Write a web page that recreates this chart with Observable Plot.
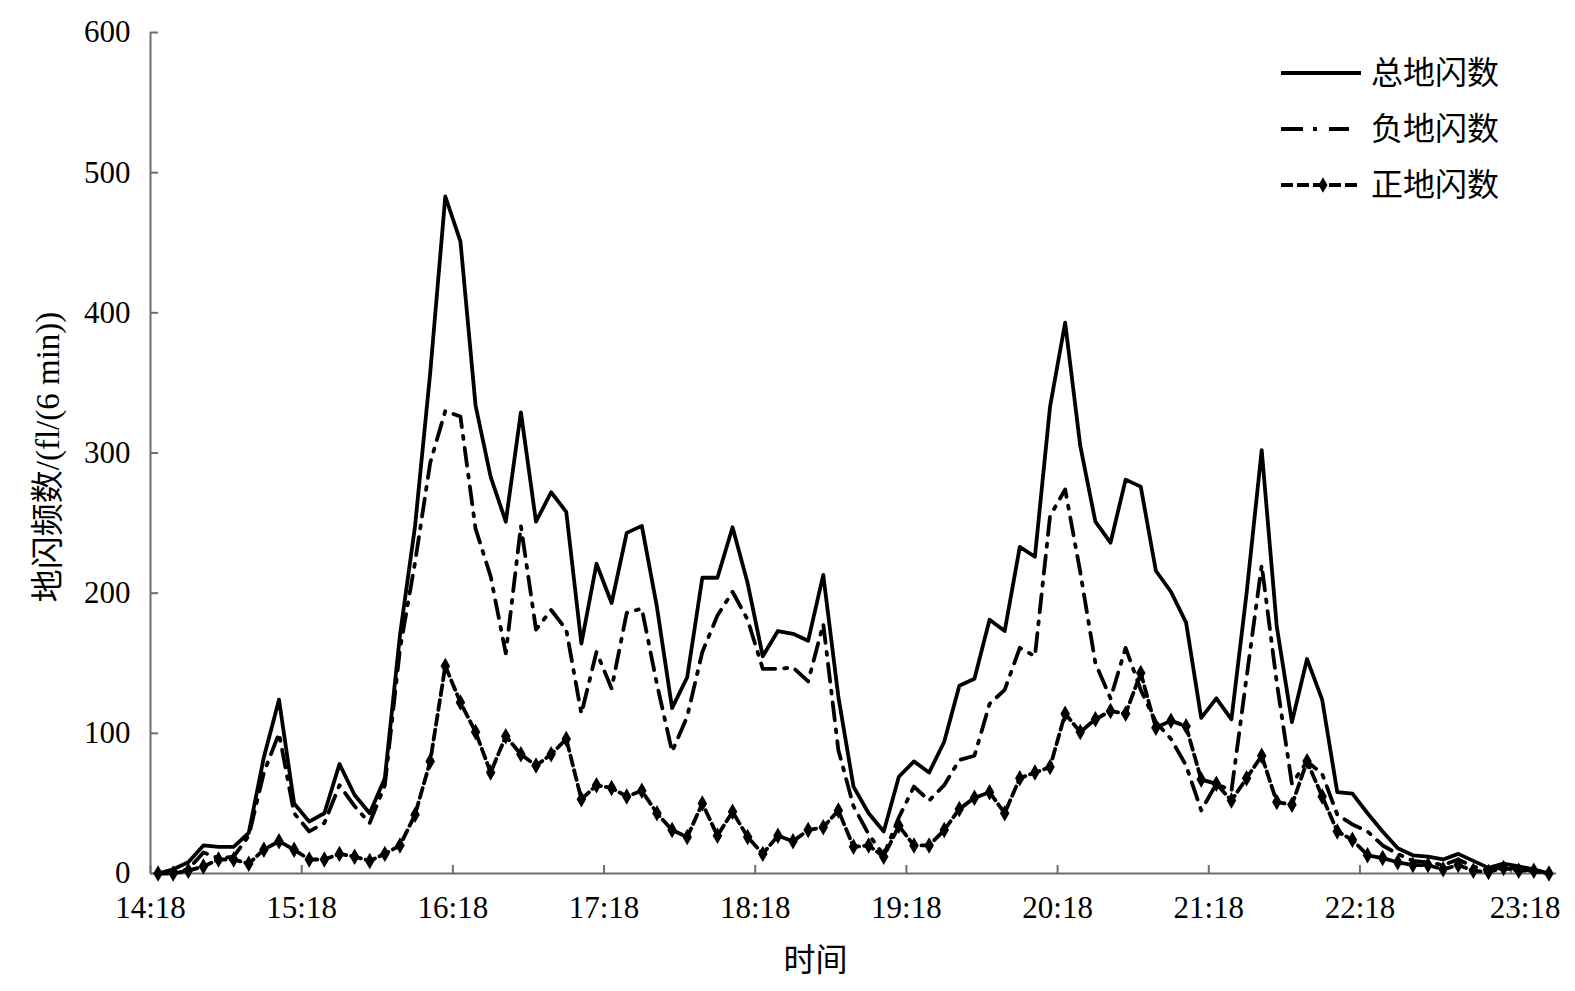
<!DOCTYPE html>
<html>
<head>
<meta charset="utf-8">
<script src="https://cdn.jsdelivr.net/npm/d3@7"></script>
<script src="https://cdn.jsdelivr.net/npm/@observablehq/plot@0.6"></script>
<style>
  body { margin: 0; background: #fff; }
  #wrap { position: relative; width: 1575px; height: 991px; overflow: hidden; }
  #legend { position: absolute; left: 0; top: 0; pointer-events: none; }
</style>
</head>
<body>
<div id="wrap"></div>
<script>
// ---- data (6-min counts, 14:18 onward) ----
const hourLabels = ["14:18","15:18","16:18","17:18","18:18","19:18","20:18","21:18","22:18","23:18"];
const yTicks = [0, 100, 200, 300, 400, 500, 600];
const seriesNames = ["总地闪数", "负地闪数", "正地闪数"];

const total = [0,3,8,20,19,19,29,83,124,50,37,43,78,56,43,68,170,248,357,483,
  451,334,283,251,329,251,272,258,164,221,193,243,248,190,118,140,211,211,247,207,
  155,173,171,166,213,126,62,43,30,69,80,72,94,134,139,181,173,233,226,333,
  393,305,251,236,281,276,216,201,179,111,125,110,200,302,176,108,153,124,58,57,
  43,30,18,13,12,10,14,9,4,7,5,3,0];

const negative = [0,1,3,15,11,12,27,72,100,43,30,36,63,48,36,63,160,222,293,330,
  326,246,212,157,248,174,188,174,114,158,132,186,189,135,87,112,158,184,201,181,
  146,146,147,137,178,88,48,28,13,40,62,52,63,81,84,121,131,161,155,255,
  274,215,150,125,161,131,108,96,77,45,64,59,140,220,136,64,80,71,42,35,
  30,20,14,9,8,6,10,5,2,5,3,2,0];

const positive = [0,0,2,5,10,10,7,17,23,17,10,10,14,12,9,14,20,42,80,148,
  122,101,72,98,85,77,85,96,53,63,61,55,59,43,31,26,50,27,44,26,
  14,27,23,31,33,45,19,20,12,34,20,20,31,46,54,58,43,68,72,76,
  114,101,110,116,114,143,104,109,105,67,64,52,68,84,51,49,80,55,30,24,
  13,11,8,6,6,3,6,2,1,4,2,2,0];

// table built from the arrays: one slot per 6-min interval
const rows = total.map((v, i) => ({slot: i + 0.5, total: v, negative: negative[i], positive: positive[i]}));

const axisGray = "#6e6e6e";
const fontStack = "'Liberation Serif','Times New Roman','Noto Sans CJK SC',serif";
const tickVals = d3.range(0, hourLabels.length * 10, 10);
const lastTick = tickVals[tickVals.length - 1];

const chart = Plot.plot({
  width: 1575,
  height: 991,
  marginLeft: 150,
  marginRight: 19,
  marginTop: 32,
  marginBottom: 118,
  style: {fontFamily: fontStack, fontSize: "31px", color: "#000", background: "#fff"},
  x: {domain: [0, total.length], axis: null},
  y: {domain: [0, 600], axis: null},
  marks: [
    Plot.ruleX([0], {stroke: axisGray, strokeWidth: 2}),
    Plot.ruleY([0], {stroke: axisGray, strokeWidth: 2}),
    // tick marks (inward)
    Plot.axisX({anchor: "bottom", ticks: tickVals, tickFormat: () => "", tickSize: -8,
      stroke: axisGray, strokeWidth: 2, label: null}),
    // tick labels
    Plot.axisX({anchor: "bottom", ticks: tickVals.filter(t => t !== lastTick), tickFormat: d => hourLabels[d / 10],
      tickSize: 0, tickPadding: 22, fill: "#000", label: null, fontSize: 31}),
    Plot.axisX({anchor: "bottom", ticks: [lastTick], tickFormat: d => hourLabels[d / 10],
      tickSize: 0, tickPadding: 22, dx: 14, fill: "#000", label: null, fontSize: 31}),
    Plot.axisY({anchor: "left", ticks: yTicks, tickSize: -8, tickPadding: 28, stroke: axisGray, strokeWidth: 2,
      fill: "#000", label: null, fontSize: 31}),
    Plot.lineY(rows, {x: "slot", y: "negative", stroke: "#000", strokeWidth: 3.8, strokeDasharray: "18,9,3,9"}),
    Plot.lineY(rows, {x: "slot", y: "positive", stroke: "#000", strokeWidth: 3.8, strokeDasharray: "10,5"}),
    Plot.dot(rows, {x: "slot", y: "positive", symbol: "diamond", fill: "#000", r: 5}),
    Plot.lineY(rows, {x: "slot", y: "total", stroke: "#000", strokeWidth: 3.8}),
    Plot.text(["时间"], {text: d => d, frameAnchor: "bottom", dy: 97, dx: -38, fontSize: 32}),
    Plot.text(["地闪频数/(fl/(6 min))"], {text: d => d, frameAnchor: "left", textAnchor: "middle",
      rotate: -90, dx: -102, dy: 4, fontSize: 33})
  ]
});

const wrap = document.getElementById("wrap");
wrap.appendChild(chart);

// legend overlay (top right, inside the plot area)
const leg = d3.select(wrap).append("svg")
  .attr("id", "legend").attr("width", 1575).attr("height", 991)
  .style("font-family", fontStack).style("font-size", "32px");
const legendStyles = [
  {dash: null, len: 80, diamond: false},
  {dash: "22,10,4,12", len: 68, diamond: false},
  {dash: "12,4", len: 80, diamond: true}
];
seriesNames.forEach((name, k) => {
  const y = 73 + k * 56;
  const g = leg.append("g").attr("transform", `translate(1281,${y})`);
  g.append("line").attr("x1", 0).attr("x2", legendStyles[k].len).attr("y1", 0).attr("y2", 0)
    .attr("stroke", "#000").attr("stroke-width", 3.8)
    .attr("stroke-dasharray", legendStyles[k].dash);
  if (legendStyles[k].diamond) {
    g.append("path").attr("d", d3.symbol(d3.symbolDiamond, 70)()).attr("transform", "translate(42,0)").attr("fill", "#000");
  }
  g.append("text").attr("x", 90).attr("y", 0).attr("dy", "0.35em").attr("fill", "#000").text(name);
});
</script>
</body>
</html>
